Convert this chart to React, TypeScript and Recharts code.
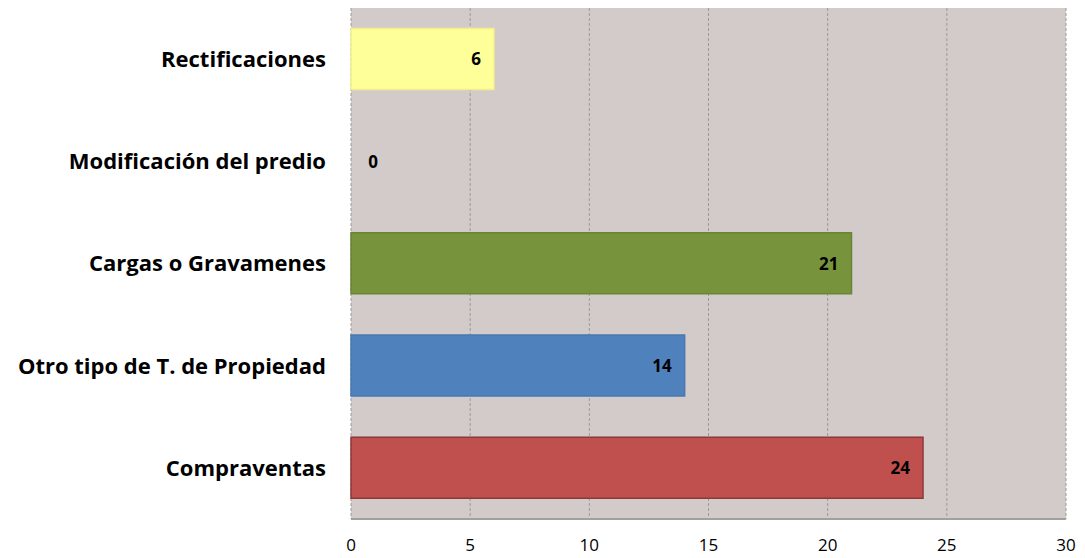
import React from "react";
import { BarChart, Bar, XAxis, YAxis, CartesianGrid, Cell, LabelList } from "recharts";

const categories = [
  "Rectificaciones",
  "Modificación del predio",
  "Cargas o Gravamenes",
  "Otro tipo de T. de Propiedad",
  "Compraventas",
];
const values = [6, 0, 21, 14, 24];
const barColors = ["#FFFF99", "#FFFF99", "#77933C", "#4F81BD", "#C0504D"];
const barStrokes = ["#f0f08a", "#f0f08a", "#6a8535", "#4a78af", "#8C3836"];
const xTicks = [0, 5, 10, 15, 20, 25, 30];

const data = categories.map((name, i) => ({ name, value: values[i] }));

const FONT = "'Open Sans', sans-serif";

const renderLabel = (props: any) => {
  const { x, y, width, height, value } = props;
  const small = width < 30;
  const lx = small ? x + 22 : x + width - 13;
  return (
    <text
      x={lx}
      y={y + height / 2}
      textAnchor={small ? "middle" : "end"}
      dominantBaseline="central"
      fontFamily={FONT}
      fontWeight="bold"
      fontSize={17}
      fill="#000"
    >
      {value}
    </text>
  );
};

export default function App() {
  return (
    <div style={{ position: "absolute", left: 0, top: 0, background: "#fff" }}>
      <BarChart
        width={1085}
        height={558}
        data={data}
        layout="vertical"
        margin={{ top: 8, right: 19, bottom: 0, left: 0 }}
        barCategoryGap="20%"
      >
        <CartesianGrid
          horizontal={false}
          vertical={true}
          fill="#D3CBCA"
          stroke="#9a9a9a"
          strokeDasharray="3 2"
          verticalValues={xTicks}
        />
        <XAxis
          type="number"
          domain={[0, 30]}
          ticks={xTicks}
          height={39}
          tickLine={false}
          tickSize={0}
          tickMargin={20}
          axisLine={{ stroke: "#a0a0a0", strokeWidth: 2 }}
          tick={{ fill: "#000", fontFamily: FONT, fontSize: 17 }}
          interval={0}
        />
        <YAxis
          type="category"
          dataKey="name"
          width={351}
          axisLine={false}
          tickLine={false}
          tickSize={0}
          tickMargin={25}
          tick={{ fill: "#000", fontFamily: FONT, fontSize: 22, fontWeight: "bold" }}
          interval={0}
        />
        <Bar dataKey="value" isAnimationActive={false} strokeWidth={1.5} minPointSize={1}>
          {data.map((d, i) => (
            <Cell
              key={d.name}
              fill={d.value === 0 ? "transparent" : barColors[i]}
              stroke={d.value === 0 ? "none" : barStrokes[i]}
            />
          ))}
          <LabelList dataKey="value" content={renderLabel} />
        </Bar>
      </BarChart>
    </div>
  );
}
